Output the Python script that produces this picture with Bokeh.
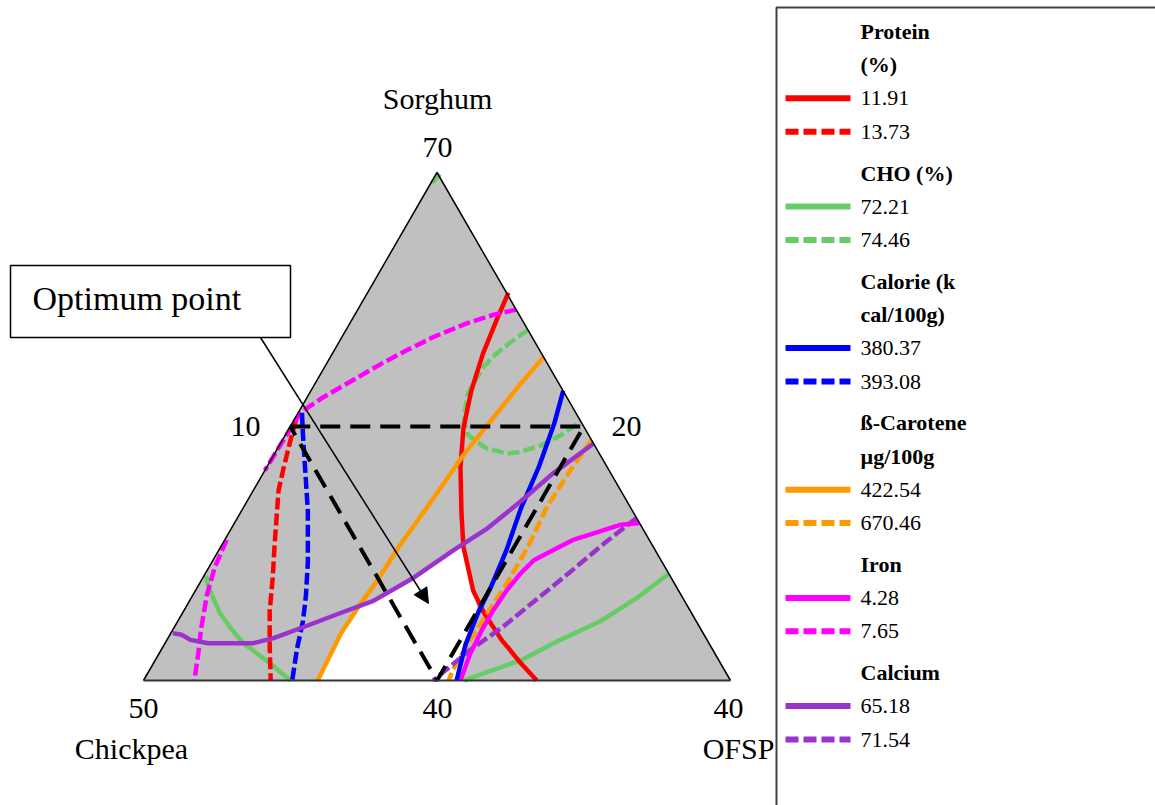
from bokeh.plotting import figure
from bokeh.models import Range1d, Arrow, NormalHead
from bokeh.core.properties import value
from bokeh.embed import file_html
from bokeh.resources import INLINE

W, H = 1155, 805
SERIF = "Liberation Serif"

# Constrained mixture region (%): Sorghum 40-70, Chickpea 20-50, OFSP 10-40.
# Every point is given as (Sorghum %, OFSP %); Chickpea = 100 - Sorghum - OFSP.
vertex_s = [70, 40, 40]
vertex_o = [10, 10, 40]

# Protein (%)
protein_1191_s = [62.9, 61.3, 59.3, 57.1, 54.9, 52.6, 49.9, 47.9, 45.3, 44.0, 42.4, 41.0, 40.0]
protein_1191_o = [17.2, 17.4, 17.7, 18.2, 18.9, 19.9, 21.3, 22.4, 24.2, 25.4, 27.1, 28.8, 30.1]
protein_1373_s = [55.4, 54.6, 53.9, 52.5, 51.2, 49.6, 48.0, 46.0, 44.1, 42.1, 40.0]
protein_1373_o = [10.1, 10.3, 10.5, 10.9, 11.3, 12.0, 12.7, 13.6, 14.4, 15.4, 16.5]

# CHO (%)
cho_7221_a_s = [46.2, 45.6, 44.9, 44.0, 43.1, 42.2, 41.6, 40.8, 40.0]
cho_7221_a_o = [10.1, 10.5, 11.1, 11.9, 12.9, 14.0, 15.0, 16.3, 17.5]
cho_7221_b_s = [46.3, 44.9, 43.5, 42.4, 41.2, 40.5, 40.0]
cho_7221_b_o = [33.7, 32.8, 31.6, 30.1, 28.7, 27.3, 26.4]
cho_7446_a_s = [69.4, 69.9]
cho_7446_a_o = [10.05, 10.2]
cho_7446_b_s = [60.7, 60.3, 59.7, 59.1, 58.5, 57.7, 57.0, 56.1, 55.4, 54.6, 54.2, 53.7,
                53.4, 53.5, 53.9, 54.5, 55.3]
cho_7446_b_o = [19.3, 19.0, 18.6, 18.3, 18.1, 18.1, 18.1, 18.4, 18.7, 19.2, 19.8, 20.7,
                21.9, 22.5, 23.4, 24.1, 24.7]

# Calorie (kcal/100g)
cal_38037_s = [57.1, 55.2, 52.6, 50.2, 47.7, 45.5, 44.0, 42.1, 40.0]
cal_38037_o = [22.9, 23.4, 23.9, 24.2, 24.7, 25.0, 25.1, 25.4, 26.0]
cal_39308_s = [55.8, 54.5, 52.7, 50.0, 47.0, 45.0, 43.5, 41.9, 40.0]
cal_39308_o = [10.2, 10.9, 11.9, 13.4, 14.9, 15.8, 16.4, 16.9, 17.6]

# beta-carotene (ug/100g)
bc_42254_s = [59.1, 57.5, 55.4, 53.4, 51.4, 49.6, 47.9, 45.9, 44.3, 42.8, 40.0]
bc_42254_o = [20.9, 20.5, 20.1, 19.7, 19.5, 19.3, 19.1, 19.0, 18.8, 18.7, 18.9]
bc_67046_s = [54.2, 52.4, 50.2, 47.9, 45.9, 44.0, 42.4, 40.6, 40.0]
bc_67046_o = [25.8, 25.6, 25.5, 25.7, 25.7, 25.6, 25.5, 25.5, 25.6]

# Iron
iron_428_s = [49.3, 49.2, 48.7, 48.3, 47.7, 47.1, 46.3, 45.3, 44.1, 43.1, 41.6, 40.0]
iron_428_o = [30.7, 29.8, 28.7, 27.8, 27.1, 26.4, 26.1, 25.9, 25.8, 25.8, 25.9, 26.2]
iron_765_a_s = [61.9, 61.6, 61.1, 60.3, 59.5, 58.7, 57.9, 57.2, 56.7, 56.2, 55.8, 54.2, 52.4]
iron_765_a_o = [18.1, 17.1, 16.0, 14.7, 13.7, 12.8, 12.0, 11.3, 10.8, 10.4, 10.1, 10.05, 10.0]
iron_765_b_s = [48.3, 46.7, 45.1, 43.1, 41.6, 40.0]
iron_765_b_o = [10.1, 10.3, 10.7, 11.4, 12.0, 12.6]

# Calcium
ca_6518_s = [42.8, 42.7, 42.4, 42.2, 42.2, 42.2, 42.5, 43.1, 44.0, 44.7, 46.1, 47.7,
             49.0, 50.6, 52.2, 54.0]
ca_6518_o = [10.1, 10.6, 11.2, 12.2, 13.5, 14.5, 15.4, 16.5, 18.1, 19.4, 20.8, 22.0,
             23.1, 24.0, 24.8, 26.0]
ca_7154_s = [49.6, 48.1, 46.4, 44.8, 43.2, 41.8, 40.0]
ca_7154_o = [30.4, 29.5, 28.6, 27.7, 26.8, 25.8, 24.8]

# Region meeting every constraint (left unshaded)
feasible_s = [40.0, 42.8, 44.5, 44.7, 46.1, 47.7, 47.9, 45.3, 44.3, 42.1, 40.0]
feasible_o = [18.9, 18.7, 18.7, 19.4, 20.8, 22.0, 22.3, 24.2, 24.9, 25.4, 26.0]

# Optimisation sub-region (black dashed)
optimum_s = [55, 55, 40, 55]
optimum_o = [10, 25, 25, 10]

# Legend content
legend_headers = [["Protein", "(%)"], ["CHO (%)"], ["Calorie (k", "cal/100g)"],
                  ["ß-Carotene", "µg/100g"], ["Iron"], ["Calcium"]]
legend_levels = [["11.91", "13.73"], ["72.21", "74.46"], ["380.37", "393.08"],
                 ["422.54", "670.46"], ["4.28", "7.65"], ["65.18", "71.54"]]
colors = ["#FF0000", "#66CC66", "#0000FF", "#FF9900", "#FF00FF", "#9933CC"]

RED, GREEN, BLUE, ORANGE, MAGENTA, PURPLE = colors
DASH = "12 4"
LW = 4.5

# Screen geometry of the triangle
TRI_LEFT, TRI_W, TRI_BASE, TRI_H = 143, 587, 680, 508


def to_xy(S, O):
    xs, ys = [], []
    for s_pct, o_pct in zip(S, O):
        s = (s_pct - 40) / 30
        o = (o_pct - 10) / 30
        xs.append(TRI_LEFT + TRI_W * (o + 0.5 * s))
        ys.append(H - (TRI_BASE - TRI_H * s))
    return xs, ys


p = figure(width=W, height=H, x_range=Range1d(0, W), y_range=Range1d(0, H),
           output_backend="svg", toolbar_location=None, min_border=0)
p.axis.visible = False
p.grid.visible = False
p.outline_line_color = None
p.background_fill_color = "white"

# Shaded region and the unshaded feasible area
tx, ty = to_xy(vertex_s, vertex_o)
p.patch(tx, ty, fill_color="#C0C0C0", line_color=None)
fx, fy = to_xy(feasible_s, feasible_o)
p.patch(fx, fy, fill_color="white", line_color=None)

curves = [
    (cho_7221_a_s, cho_7221_a_o, GREEN, None),
    (cho_7221_b_s, cho_7221_b_o, GREEN, None),
    (cho_7446_a_s, cho_7446_a_o, GREEN, DASH),
    (cho_7446_b_s, cho_7446_b_o, GREEN, DASH),
    (protein_1191_s, protein_1191_o, RED, None),
    (protein_1373_s, protein_1373_o, RED, DASH),
    (bc_42254_s, bc_42254_o, ORANGE, None),
    (bc_67046_s, bc_67046_o, ORANGE, DASH),
    (ca_7154_s, ca_7154_o, PURPLE, DASH),
    (iron_428_s, iron_428_o, MAGENTA, None),
    (iron_765_a_s, iron_765_a_o, MAGENTA, DASH),
    (iron_765_b_s, iron_765_b_o, MAGENTA, DASH),
    (cal_38037_s, cal_38037_o, BLUE, None),
    (cal_39308_s, cal_39308_o, BLUE, DASH),
    (ca_6518_s, ca_6518_o, PURPLE, None),
]
for S, O, c, dash in curves:
    xs, ys = to_xy(S, O)
    if dash:
        p.line(xs, ys, line_color=c, line_width=LW, line_dash=dash, line_join="round")
    else:
        p.line(xs, ys, line_color=c, line_width=LW, line_join="round")

ox, oy = to_xy(optimum_s, optimum_o)
p.line(ox, oy, line_color="black", line_width=4, line_dash="20 10")

# Triangle outline
p.line([tx[1], tx[0], tx[2]], [ty[1], ty[0], ty[2]], line_color="black", line_width=1.5)
p.line([tx[1], tx[2]], [ty[1], ty[2]], line_color="#333333", line_width=2)


def label(x, y, txt, size, align="center", style="normal"):
    p.text(x=[x], y=[H - y], text=[txt], text_font=value(SERIF),
           text_font_size=value(size), text_align=align, text_baseline="middle",
           text_color="black", text_font_style=style)


# Component names and limits
label(437, 98, "Sorghum", "30px")
label(437, 147, "70", "30px")
label(260, 426, "10", "30px", align="right")
label(611, 426, "20", "30px", align="left")
label(143, 708, "50", "30px")
label(437, 708, "40", "30px")
label(728, 708, "40", "30px")
label(131, 748, "Chickpea", "30px")
label(738, 748, "OFSP", "30px")

# Call-out box and arrow
p.quad(left=[10], right=[290], top=[H - 265], bottom=[H - 337],
       fill_color="white", line_color="black", line_width=1.5)
label(32, 298, "Optimum point", "34px", align="left")
p.add_layout(Arrow(x_start=260, y_start=H - 337, x_end=428, y_end=H - 603,
                   line_color="black", line_width=1.5,
                   end=NormalHead(size=15, fill_color="black", line_color="black")))

# Legend panel
p.quad(left=[776], right=[W + 10], top=[H - 7], bottom=[-10],
       fill_color="white", line_color="#404040", line_width=2)
LX0, LX1, TX = 785, 850, 860
y = 31.0
for headers, levels, c in zip(legend_headers, legend_levels, colors):
    for h in headers:
        label(TX, y, h, "22px", align="left", style="bold")
        y += 33.4
    for i, lv in enumerate(levels):
        if i == 0:
            p.line([LX0, LX1], [H - y, H - y], line_color=c, line_width=6)
        else:
            p.line([LX0, LX1], [H - y, H - y], line_color=c, line_width=6, line_dash="13 5")
        label(TX, y, lv, "22px", align="left")
        y += 33.4
    y += 8

open("out.html", "w").write(file_html(p, INLINE))
